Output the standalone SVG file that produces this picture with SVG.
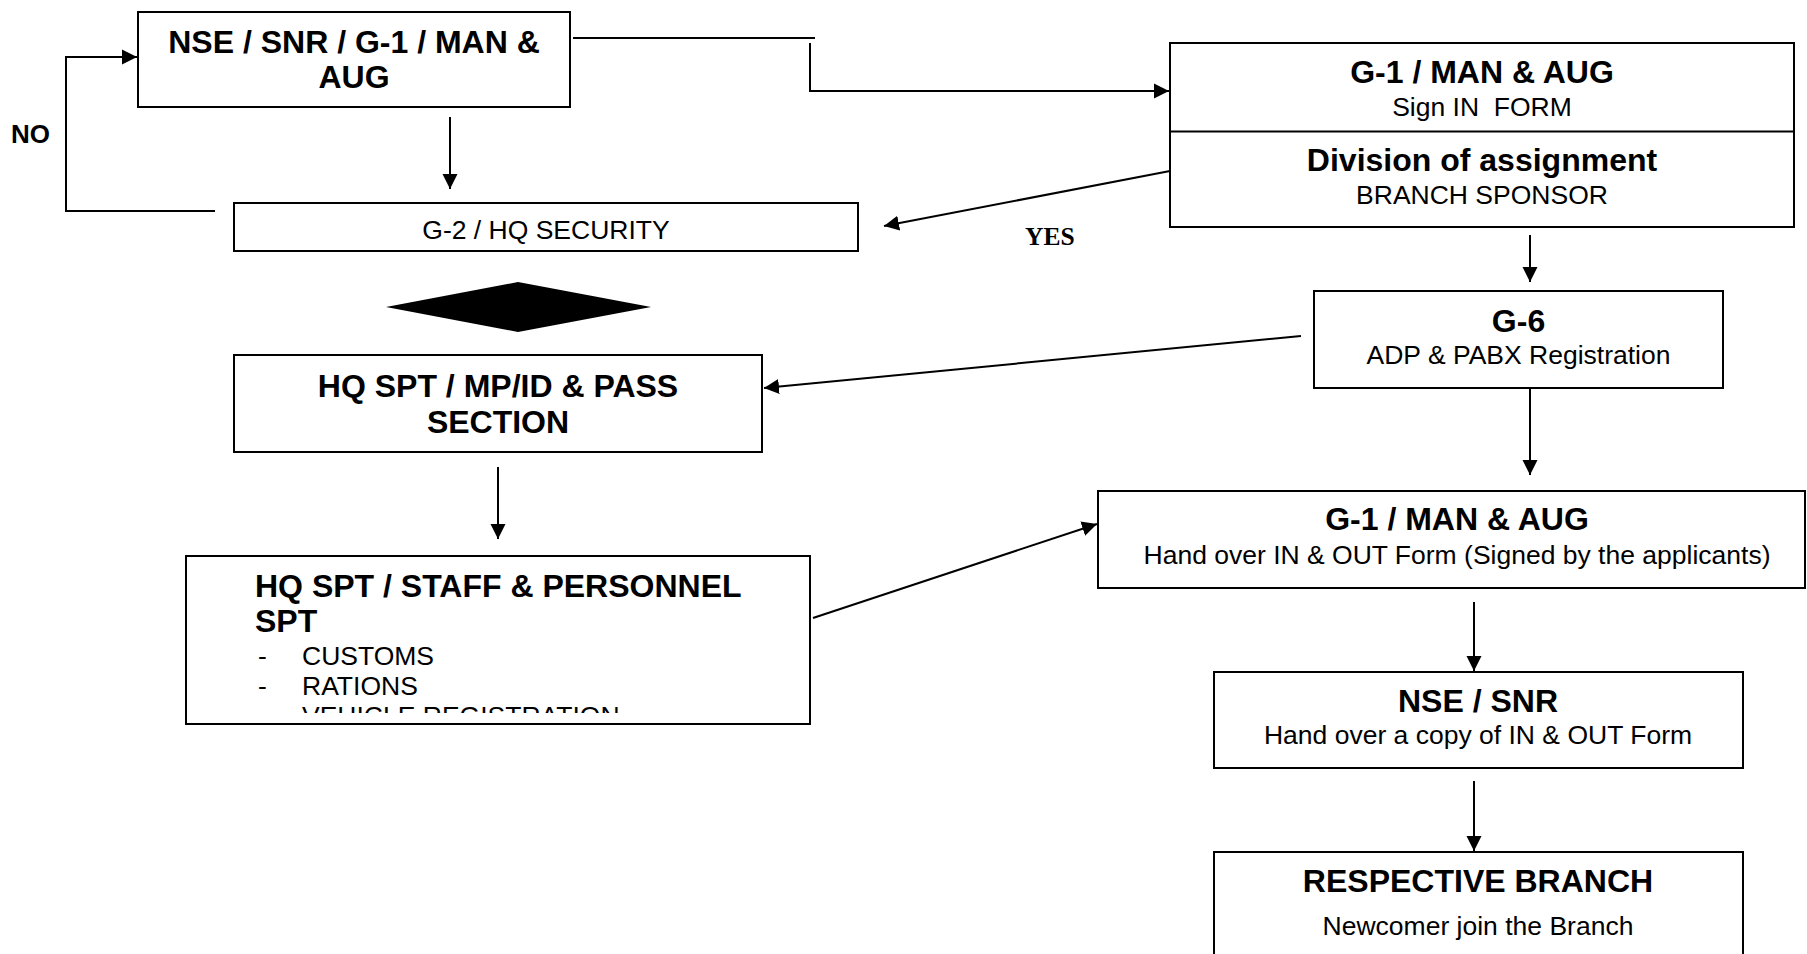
<svg xmlns="http://www.w3.org/2000/svg" width="1807" height="954" viewBox="0 0 1807 954">
<defs>
<style>
.box{fill:#fff;stroke:#000;stroke-width:2}
.b{font-family:"Liberation Sans",Arial,sans-serif;font-weight:bold;font-size:32px;fill:#000}
.r{font-family:"Liberation Sans",Arial,sans-serif;font-size:26.5px;fill:#000;white-space:pre}
.c{text-anchor:middle}
.ln{fill:none;stroke:#000;stroke-width:2}
</style>
<marker id="ah" markerUnits="userSpaceOnUse" markerWidth="16" markerHeight="16" viewBox="0 0 16 16" refX="15" refY="8" orient="auto">
<path d="M0,0.5 L15,8 L0,15.5 Z" fill="#000"/>
</marker>
<clipPath id="staffclip"><rect x="186" y="556" width="624" height="157"/></clipPath>
</defs>
<rect width="1807" height="954" fill="#fff"/>

<g id="connectors">
<line class="ln" x1="573" y1="38" x2="815" y2="38"/>
<polyline class="ln" points="810,43 810,91 1169,91" marker-end="url(#ah)"/>
<polyline class="ln" points="215,211 66,211 66,57 137,57" marker-end="url(#ah)"/>
<line class="ln" x1="450" y1="117" x2="450" y2="189" marker-end="url(#ah)"/>
<line class="ln" x1="1170" y1="171" x2="884" y2="226" marker-end="url(#ah)"/>
<line class="ln" x1="1530" y1="235" x2="1530" y2="282" marker-end="url(#ah)"/>
<line class="ln" x1="1301" y1="336" x2="764" y2="388" marker-end="url(#ah)"/>
<line class="ln" x1="1530" y1="388" x2="1530" y2="475" marker-end="url(#ah)"/>
<line class="ln" x1="498" y1="467" x2="498" y2="539" marker-end="url(#ah)"/>
<line class="ln" x1="813" y1="618" x2="1097" y2="524" marker-end="url(#ah)"/>
<line class="ln" x1="1474" y1="602" x2="1474" y2="671" marker-end="url(#ah)"/>
<line class="ln" x1="1474" y1="781" x2="1474" y2="851" marker-end="url(#ah)"/>
<text x="11" y="143" class="b" style="font-size:26px">NO</text>
<text x="1025" y="245" style="font-family:'Liberation Serif','Times New Roman',serif;font-weight:bold;font-size:25.5px">YES</text>
</g>

<g id="n-start">
<rect class="box" x="138" y="12" width="432" height="95"/>
<text class="b c" x="354" y="53">NSE / SNR / G-1 / MAN &amp;</text>
<text class="b c" x="354" y="88">AUG</text>
</g>

<g id="n-g2">
<rect class="box" x="234" y="203" width="624" height="48"/>
<text class="r c" x="546" y="238.5">G-2 / HQ SECURITY</text>
</g>

<g id="n-diamond">
<polygon points="386,307 518,282 651,307 518,332" fill="#000"/>
</g>

<g id="n-hqspt">
<rect class="box" x="234" y="355" width="528" height="97"/>
<text class="b c" x="498" y="396.5">HQ SPT / MP/ID &amp; PASS</text>
<text class="b c" x="498" y="432.5">SECTION</text>
</g>

<g id="n-staff">
<rect class="box" x="186" y="556" width="624" height="168"/>
<g clip-path="url(#staffclip)">
<text class="b" x="255" y="597">HQ SPT / STAFF &amp; PERSONNEL</text>
<text class="b" x="255" y="632">SPT</text>
<text class="r" x="258" y="665">-</text>
<text class="r" x="302" y="665">CUSTOMS</text>
<text class="r" x="258" y="695">-</text>
<text class="r" x="302" y="695">RATIONS</text>
<text class="r" x="258" y="725">-</text>
<text class="r" x="302" y="725">VEHICLE REGISTRATION</text>
</g>
</g>

<g id="n-signin">
<rect class="box" x="1170" y="43" width="624" height="184"/>
<line class="ln" x1="1170" y1="131.5" x2="1794" y2="131.5"/>
<text class="b c" x="1482" y="83">G-1 / MAN &amp; AUG</text>
<text class="r c" x="1482" y="116" xml:space="preserve">Sign IN  FORM</text>
<text class="b c" x="1482" y="171">Division of assignment</text>
<text class="r c" x="1482" y="204">BRANCH SPONSOR</text>
</g>

<g id="n-g6">
<rect class="box" x="1314" y="291" width="409" height="97"/>
<text class="b c" x="1518.5" y="332">G-6</text>
<text class="r c" x="1518.5" y="363.5">ADP &amp; PABX Registration</text>
</g>

<g id="n-handover">
<rect class="box" x="1098" y="491" width="707" height="97"/>
<text class="b c" x="1457" y="530">G-1 / MAN &amp; AUG</text>
<text class="r c" x="1457" y="563.5">Hand over IN &amp; OUT Form (Signed by the applicants)</text>
</g>

<g id="n-nse">
<rect class="box" x="1214" y="672" width="529" height="96"/>
<text class="b c" x="1478" y="712">NSE / SNR</text>
<text class="r c" x="1478" y="743.5">Hand over a copy of IN &amp; OUT Form</text>
</g>

<g id="n-branch">
<rect class="box" x="1214" y="852" width="529" height="120"/>
<text class="b c" x="1478" y="892">RESPECTIVE BRANCH</text>
<text class="r c" x="1478" y="935">Newcomer join the Branch</text>
</g>
</svg>
